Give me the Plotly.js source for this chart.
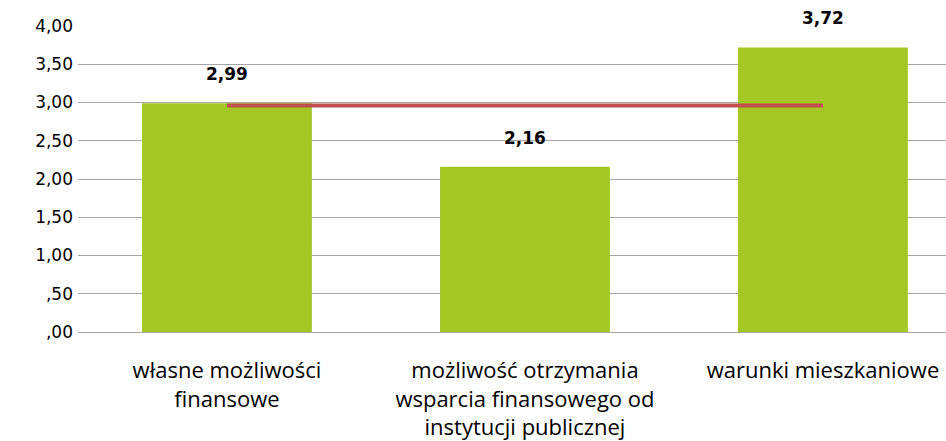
<!DOCTYPE html>
<html>
<head>
<meta charset="utf-8">
<script src="https://cdn.plot.ly/plotly-3.0.1.min.js"></script>
<style>html,body{margin:0;padding:0;background:#fff;}#chart{width:946px;height:441px;}</style>
</head>
<body>
<div id="chart"></div>
<script>
var categories = ["własne możliwości<br>finansowe", "możliwość otrzymania<br>wsparcia finansowego od<br>instytucji publicznej", "warunki mieszkaniowe"];
var values = [2.99, 2.16, 3.72];
var valueLabels = ["2,99", "2,16", "3,72"];
var averageValue = 2.96;
var tickVals = [0, 0.5, 1, 1.5, 2, 2.5, 3, 3.5, 4];
var tickText = [",00", ",50", "1,00", "1,50", "2,00", "2,50", "3,00", "3,50", "4,00"];

var traces = [
  {type: "bar", x: categories, y: values, width: 0.57,
   marker: {color: "#A5C723"}, hoverinfo: "none"},
  {type: "scatter", mode: "lines", x: [categories[0], categories[2]],
   y: [averageValue, averageValue],
   line: {color: "#C0504D", width: 4}, hoverinfo: "none"}
];
var annotations = categories.map(function(c, i) {
  return {x: c, y: values[i], text: "<b>" + valueLabels[i] + "</b>", showarrow: false,
          yshift: 29, font: {family: "DejaVu Sans", size: 17, color: "#000"}};
});
var layout = {
  width: 946, height: 441,
  margin: {l: 78, r: 0, t: 26, b: 109},
  paper_bgcolor: "#fff", plot_bgcolor: "#fff",
  showlegend: false,
  bargap: 0.43,
  xaxis: {type: "category", range: [-0.5, 2.413], showgrid: false, zeroline: false,
          showline: false, ticks: "", ticklabelstandoff: 23,
          tickfont: {family: "Open Sans", size: 22, color: "#000"}},
  yaxis: {range: [0, 4], tickvals: tickVals, ticktext: tickText,
          showgrid: true, gridcolor: "#A6A6A6", gridwidth: 1, zeroline: true,
          zerolinecolor: "#A6A6A6", zerolinewidth: 1, showline: false, ticks: "",
          ticklabelstandoff: 4,
          tickfont: {family: "DejaVu Sans", size: 17, color: "#000"}},
  annotations: annotations
};
Plotly.newPlot("chart", traces, layout, {displayModeBar: false, staticPlot: true});
</script>
</body>
</html>
